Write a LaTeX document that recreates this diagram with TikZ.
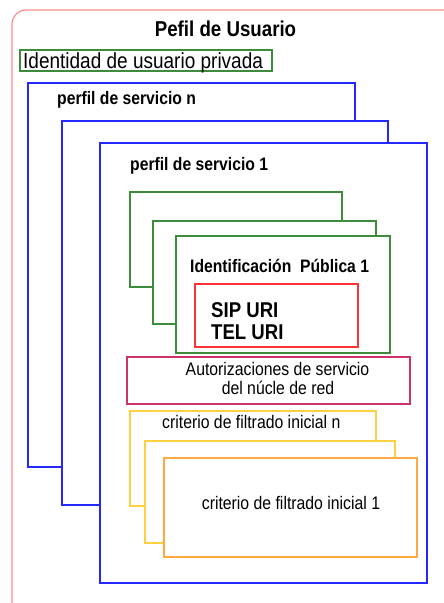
\documentclass[tikz,border=0pt]{standalone}
\usepackage{fontspec}
\setmainfont{Liberation Sans}
\definecolor{ugreen}{HTML}{3C8C3C}
\definecolor{ugold}{HTML}{FFD040}
\definecolor{uorange}{HTML}{FFAA40}
\definecolor{umag}{HTML}{CC3366}
\definecolor{ublue}{HTML}{2626FF}
\definecolor{ured}{HTML}{FF3333}
\definecolor{upink}{HTML}{FF8C8C}
\newcommand\vstr[1]{\scalebox{1}[1.15]{#1}}
\begin{document}
\begin{tikzpicture}[x=1pt,y=-1pt,
  txt/.style={inner sep=0pt,font=\fontsize{15.8}{20}\selectfont},
  btxt/.style={inner sep=0pt,font=\fontsize{15.7}{20}\selectfont\bfseries},
  bluebox/.style={draw=ublue,line width=1.1pt,fill=white},
  greenbox/.style={draw=ugreen,line width=1.1pt,fill=white},
  yelbox/.style={draw=ugold,line width=1.1pt,fill=white},
  orbox/.style={draw=uorange,line width=1.1pt,fill=white}]
\useasboundingbox (0,0) rectangle (444,603);
\begin{scope}
\clip (0,0) rectangle (444,603);
\draw[upink,line width=1.2pt,rounded corners=14pt] (12,10) rectangle (470,630);
\end{scope}
\node[btxt,font=\fontsize{18.7}{22}\selectfont\bfseries,anchor=base] (title) at (225.5,36) {\vstr{Pefil de Usuario}};
\draw[greenbox] (20,50) rectangle (272,71);
\node[inner sep=0pt,font=\fontsize{19}{22}\selectfont,anchor=base west] (priv) at (23,68) {\vstr{Identidad de usuario privada}};
% service profiles
\draw[bluebox] (28,83) rectangle (355,467);
\node[btxt,anchor=base west] (psn) at (57,104) {\vstr{perfil de servicio n}};
\draw[bluebox] (62,121) rectangle (388,505);
\draw[bluebox] (100,143) rectangle (427,583);
\node[btxt,anchor=base west] (ps1) at (130,170) {\vstr{perfil de servicio 1}};
% public identities
\draw[greenbox] (130,192) rectangle (342,287);
\draw[greenbox] (153,221) rectangle (376,324);
\draw[greenbox] (176,236) rectangle (390,353);
\node[btxt,anchor=base west] (pub) at (190,272) {\vstr{Identificación\ \ Pública 1}};
\draw[draw=ured,line width=1.1pt] (195,284) rectangle (358,347);
\node[inner sep=0pt,font=\fontsize{18.6}{22}\selectfont\bfseries,anchor=base west] (sip) at (211,317) {\vstr{SIP URI}};
\node[inner sep=0pt,font=\fontsize{18.6}{22}\selectfont\bfseries,anchor=base west] (tel) at (211,339) {\vstr{TEL URI}};
% core authorisations
\draw[draw=umag,line width=1.1pt] (127,357) rectangle (410,404);
\node[txt,anchor=base] (aut1) at (277.5,375) {\vstr{Autorizaciones de servicio}};
\node[txt,anchor=base] (aut2) at (278,394) {\vstr{del núcle de red}};
% filter criteria
\draw[yelbox] (130,411) rectangle (376,506);
\node[txt,anchor=base west] (ifcn) at (162,428) {\vstr{criterio de filtrado inicial n}};
\draw[yelbox] (145,441) rectangle (395,543);
\draw[orbox] (164,458) rectangle (417,557);
\node[txt,anchor=base] (ifc1) at (291,509) {\vstr{criterio de filtrado inicial 1}};
\end{tikzpicture}
\end{document}
